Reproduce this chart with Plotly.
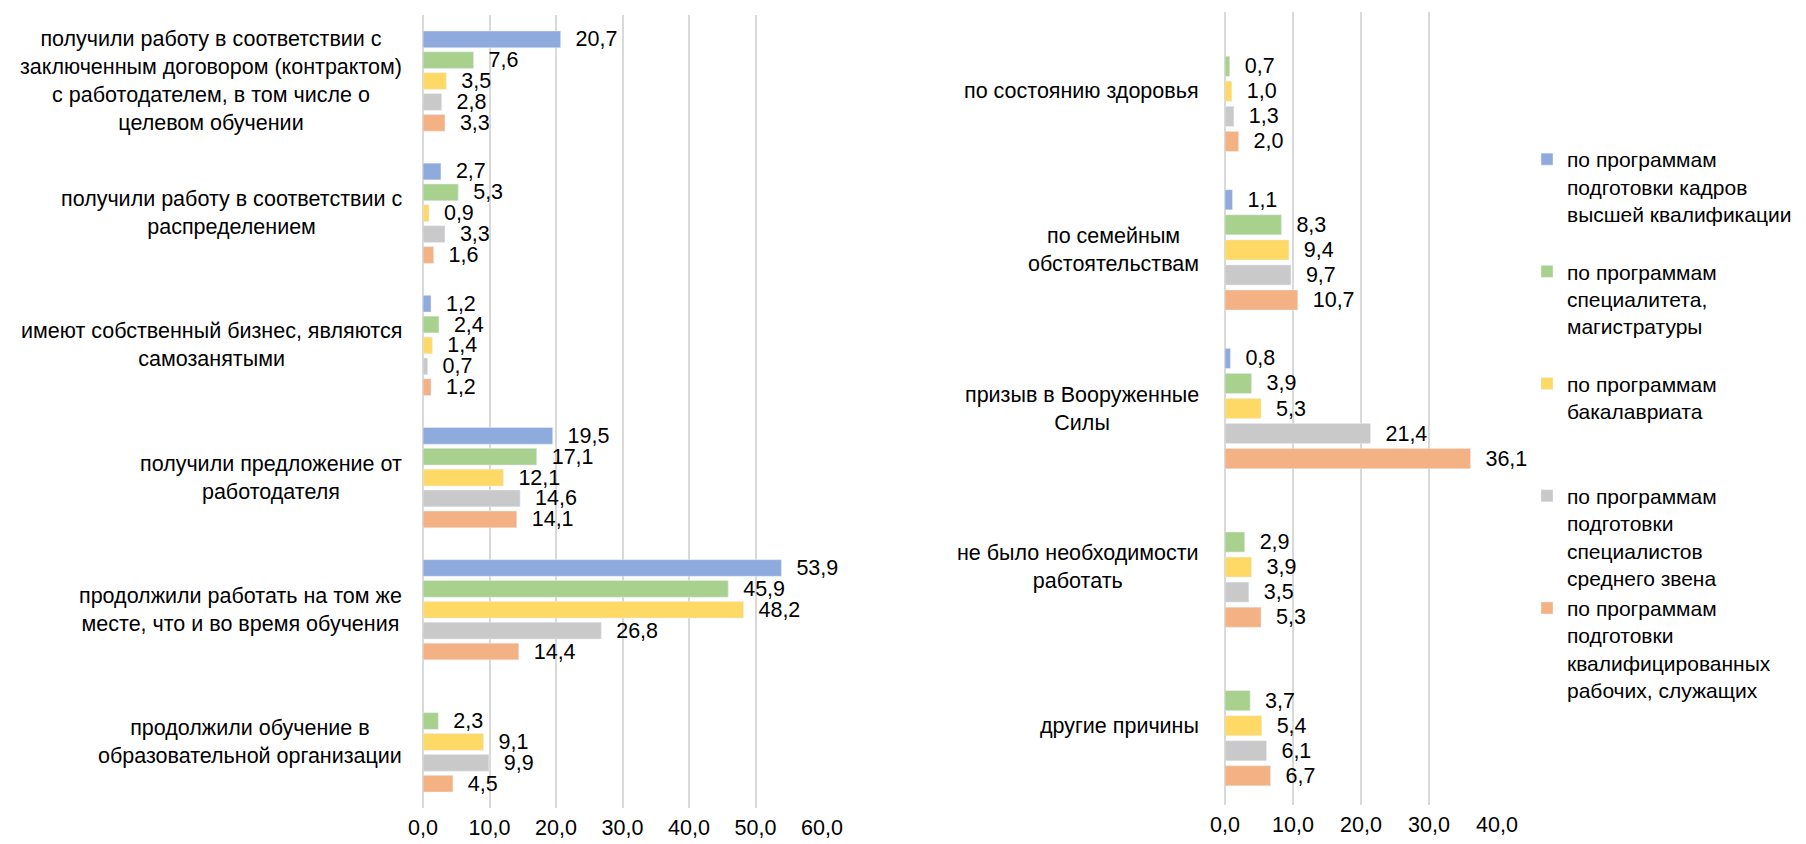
import plotly.graph_objects as go
from plotly.subplots import make_subplots

# left panel: where graduates went to work
left_cats = [
    "получили работу в соответствии с<br>заключенным договором (контрактом)<br>с работодателем, в том числе о<br>целевом обучении",
    "получили работу в соответствии с<br>распределением",
    "имеют собственный бизнес, являются<br>самозанятыми",
    "получили предложение от<br>работодателя",
    "продолжили работать на том же<br>месте, что и во время обучения",
    "продолжили обучение в<br>образовательной организации",
]
# right panel: reasons for not working
right_cats = [
    "по состоянию здоровья",
    "по семейным<br>обстоятельствам",
    "призыв в Вооруженные<br>Силы",
    "не было необходимости<br>работать",
    "другие причины",
]

series_names = [
    "по программам<br>подготовки кадров<br>высшей квалификации",
    "по программам<br>специалитета,<br>магистратуры",
    "по программам<br>бакалавриата",
    "по программам<br>подготовки<br>специалистов<br>среднего звена",
    "по программам<br>подготовки<br>квалифицированных<br>рабочих, служащих",
]
colors = ["#8FAADC", "#A9D18E", "#FFD966", "#C9C9C9", "#F4B183"]

left_high = [20.7, 2.7, 1.2, 19.5, 53.9, None]
left_spec = [7.6, 5.3, 2.4, 17.1, 45.9, 2.3]
left_bach = [3.5, 0.9, 1.4, 12.1, 48.2, 9.1]
left_mid = [2.8, 3.3, 0.7, 14.6, 26.8, 9.9]
left_work = [3.3, 1.6, 1.2, 14.1, 14.4, 4.5]

right_high = [None, 1.1, 0.8, None, None]
right_spec = [0.7, 8.3, 3.9, 2.9, 3.7]
right_bach = [1.0, 9.4, 5.3, 3.9, 5.4]
right_mid = [1.3, 9.7, 21.4, 3.5, 6.1]
right_work = [2.0, 10.7, 36.1, 5.3, 6.7]

left_vals = [left_high, left_spec, left_bach, left_mid, left_work]
right_vals = [right_high, right_spec, right_bach, right_mid, right_work]

FONT = "Arial, Liberation Sans, sans-serif"
W, H = 1806, 844
FS = 21.5

fig = make_subplots(rows=1, cols=2)

for i in range(5):
    # pad legend entries to 4 lines so the spacing is even
    nlines = series_names[i].count("<br>") + 1
    legend_name = series_names[i] + "<br>\u00a0" * (4 - nlines)
    fig.add_trace(go.Bar(y=left_cats, x=left_vals[i], orientation="h",
                         name=legend_name, marker_color=colors[i],
                         texttemplate="\u00a0\u00a0%{x:.1f}", textposition="outside",
                         constraintext="none", cliponaxis=False,
                         textfont=dict(size=FS, color="black", family=FONT),
                         hoverinfo="x+y"), row=1, col=1)
    fig.add_trace(go.Bar(y=right_cats, x=right_vals[i], orientation="h",
                         name=legend_name, marker_color=colors[i], showlegend=False,
                         texttemplate="\u00a0\u00a0%{x:.1f}", textposition="outside",
                         constraintext="none", cliponaxis=False,
                         textfont=dict(size=FS, color="black", family=FONT),
                         hoverinfo="x+y"), row=1, col=2)

# centred category labels (Excel style)
for c in left_cats:
    fig.add_annotation(x=0, y=c, xref="x domain", yref="y", text=c, showarrow=False,
                       xanchor="right", xshift=-19, align="center",
                       font=dict(size=FS, color="black", family=FONT))
for c in right_cats:
    fig.add_annotation(x=0, y=c, xref="x2 domain", yref="y2", text=c, showarrow=False,
                       xanchor="right", xshift=-24, align="center",
                       font=dict(size=FS, color="black", family=FONT))

axis_style = dict(showgrid=True, gridcolor="#D9D9D9", gridwidth=1.5,
                  zeroline=True, zerolinecolor="#D9D9D9", zerolinewidth=1.5,
                  showline=False, tickformat=".1f", ticklabelstandoff=4,
                  automargin=False,
                  tickfont=dict(size=FS, color="black", family=FONT))
fig.update_xaxes(axis_style)
fig.update_xaxes(range=[0, 60], dtick=10, domain=[423 / W, 822 / W], row=1, col=1)
fig.update_xaxes(range=[0, 40], dtick=10, domain=[1225 / W, 1497 / W], row=1, col=2)
fig.update_yaxes(autorange="reversed", showticklabels=False, showgrid=False,
                 zeroline=False, automargin=False)
fig.update_yaxes(domain=[1 - 808 / H, 1 - 15 / H], row=1, col=1)
fig.update_yaxes(domain=[1 - 805 / H, 1 - 12 / H], row=1, col=2)

fig.update_layout(
    width=W, height=H,
    margin=dict(l=0, r=0, t=0, b=0, autoexpand=False),
    barmode="group", bargap=0.21, bargroupgap=0.2,
    separators=", ",
    plot_bgcolor="white", paper_bgcolor="white",
    font=dict(family=FONT, color="black"),
    legend=dict(x=1527 / W, xanchor="left", y=1 - 139 / H, yanchor="top",
                valign="top", font=dict(size=21, color="black", family=FONT),
                bgcolor="rgba(0,0,0,0)"),
)

# drop the default body margin so the figure sits at the window corner
fig.write_html("out.html", config={"displayModeBar": False},
               post_script="document.body.style.margin='0';")
